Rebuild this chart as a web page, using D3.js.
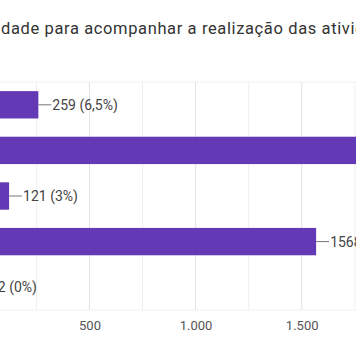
<!DOCTYPE html>
<html><head><meta charset="utf-8">
<script src="https://cdn.jsdelivr.net/npm/d3@7"></script>
<style>html,body{margin:0;padding:0;background:#fff;overflow:hidden}</style>
</head><body>
<svg id="c" width="356" height="364"></svg>
<script>
const title = "dade para acompanhar a realização das atividades";
const categories = ["Opção 1", "Opção 2", "Opção 3", "Opção 4", "Opção 5"];
const values = [259, 2040, 121, 1568, 2];
const valueLabels = ["259 (6,5%)", "2040 (51,1%)", "121 (3%)", "1568 (39,3%)", "2 (0%)"];
const majorTicks = [0, 500, 1000, 1500, 2000];
const tickLabels = ["0", "500", "1.000", "1.500", "2.000"];
const minorTicks = [250, 750, 1250, 1750];

const svg = d3.select("#c");
const x = d3.scaleLinear().domain([0, 2000]).range([-16.6, -16.6 + 2000 * 0.2122]);
const y = d3.scaleBand().domain(categories).range([82, 310]).paddingInner(0.4).paddingOuter(0.2);
const font = "Roboto, Arial, sans-serif";

svg.append("text").attr("x", 1).attr("y", 34).attr("font-family", font)
  .attr("font-size", 16.5).attr("letter-spacing", 0.62).attr("fill", "#333").text(title);

const g = svg.append("g");
g.selectAll("line.minor").data(minorTicks).enter().append("line")
  .attr("x1", d => x(d)).attr("x2", d => x(d)).attr("y1", 82).attr("y2", 310)
  .attr("stroke", "#f0f0f0").attr("stroke-width", 1);
g.selectAll("line.major").data(majorTicks).enter().append("line")
  .attr("x1", d => x(d)).attr("x2", d => x(d)).attr("y1", 82).attr("y2", 310)
  .attr("stroke", "#e3e3e3").attr("stroke-width", 1);
[82, 310].forEach(v => g.append("line").attr("x1", 0).attr("x2", 356)
  .attr("y1", v).attr("y2", v).attr("stroke", "#f0f0f0"));

g.selectAll("rect.bar").data(values).enter().append("rect")
  .attr("x", x(0)).attr("y", (d, i) => y(categories[i]))
  .attr("width", d => x(d) - x(0)).attr("height", y.bandwidth())
  .attr("fill", "#6439b6");

g.selectAll("line.lead").data(values).enter().append("line")
  .attr("x1", d => x(d)).attr("x2", d => x(d) + 13)
  .attr("y1", (d, i) => y(categories[i]) + y.bandwidth() / 2)
  .attr("y2", (d, i) => y(categories[i]) + y.bandwidth() / 2)
  .attr("stroke", "#777").attr("stroke-width", 1);

g.selectAll("text.lab").data(values).enter().append("text")
  .attr("x", d => x(d) + 14)
  .attr("y", (d, i) => y(categories[i]) + y.bandwidth() / 2)
  .attr("dy", "0.35em").attr("font-family", font).attr("font-size", 14)
  .attr("fill", "#444").text((d, i) => valueLabels[i]);

const axis = d3.axisBottom(x).tickValues(majorTicks).tickSize(0)
  .tickFormat((d, i) => tickLabels[i]);
const ax = svg.append("g").attr("transform", "translate(0,318)").call(axis);
ax.select(".domain").remove();
ax.selectAll("text").attr("font-family", font).attr("font-size", 13).attr("fill", "#555");
</script>
</body></html>
